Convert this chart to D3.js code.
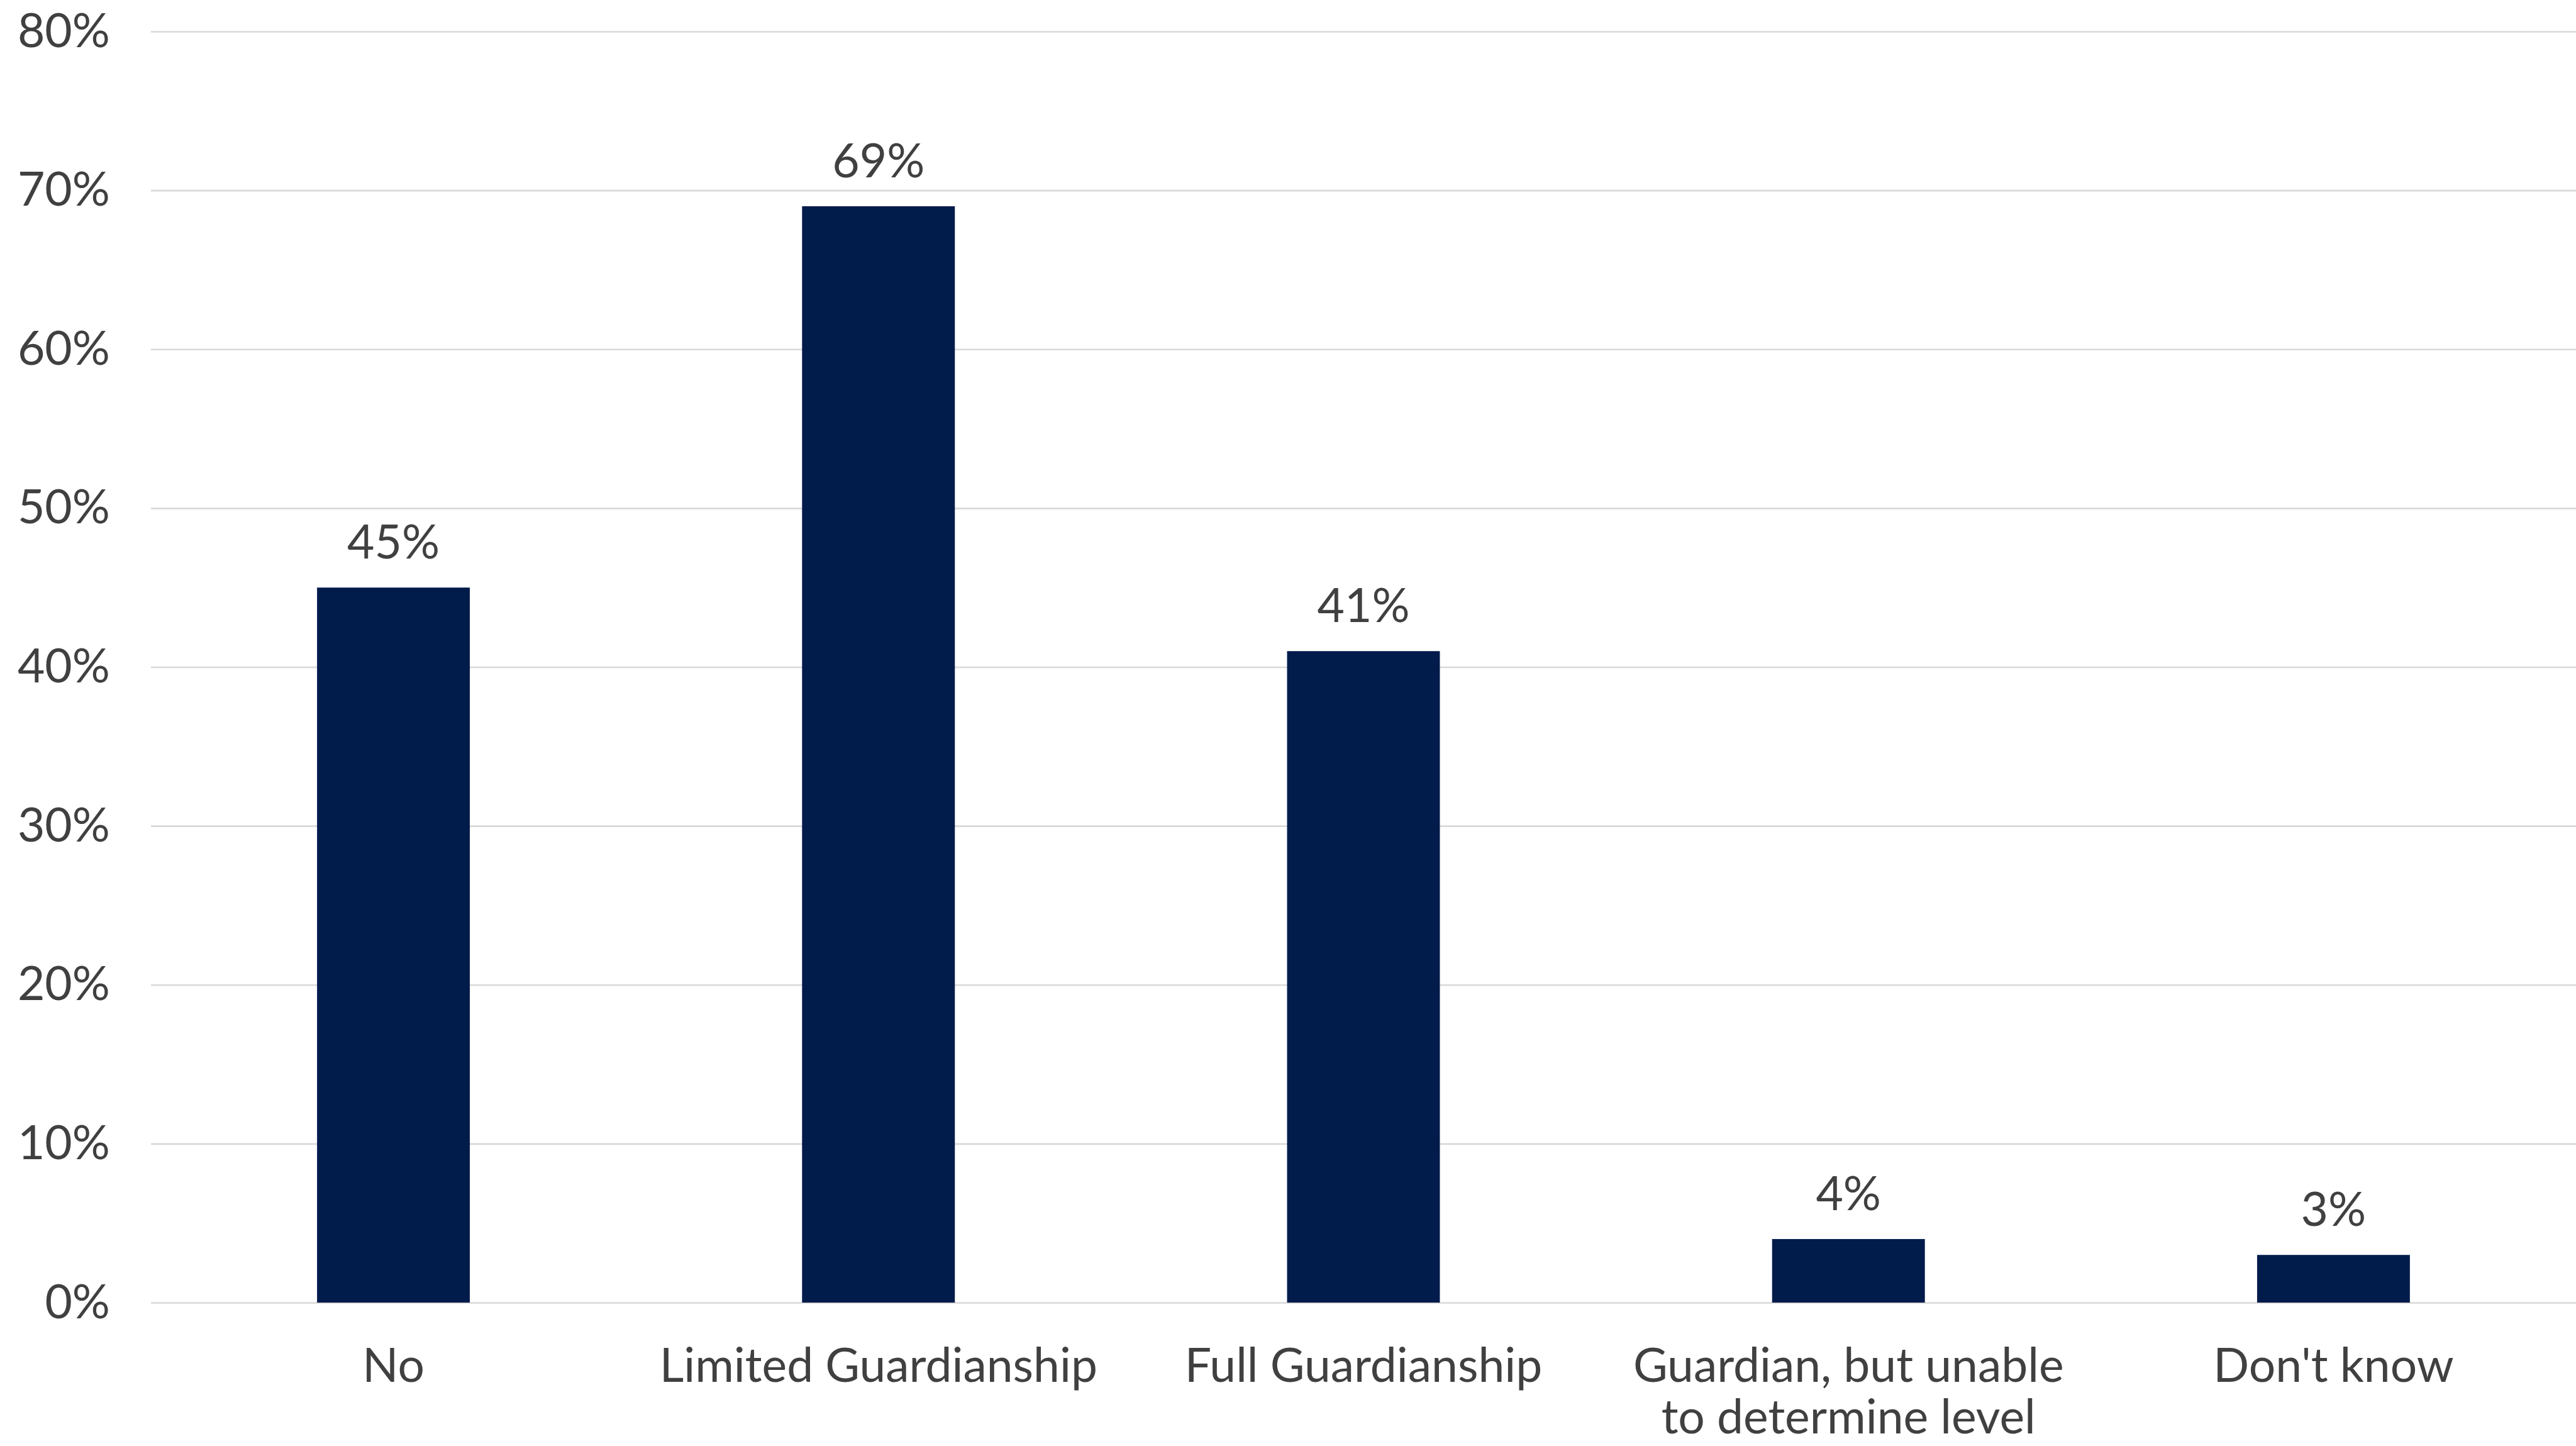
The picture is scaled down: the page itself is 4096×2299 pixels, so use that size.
<!DOCTYPE html>
<html>
<head>
<meta charset="utf-8">
<script src="https://cdn.jsdelivr.net/npm/d3@7"></script>
<style>
  html, body { margin: 0; padding: 0; background: #ffffff; }
  svg { display: block; }
</style>
</head>
<body>
<svg id="chart" width="4096" height="2299"></svg>
<script>
// ---- data ----
const categories = ["No", "Limited Guardianship", "Full Guardianship", "Guardian, but unable to determine level", "Don't know"];
const values = [45, 69, 41, 4, 3];
const yTicks = [0, 10, 20, 30, 40, 50, 60, 70, 80];

// ---- layout ----
const W = 4096, H = 2299;
const margin = { left: 240, right: 0, top: 50, bottom: 228 };
const FONT = "Lato, 'Open Sans', sans-serif";
const FS = 75;
const TEXT = "#404040";

const svg = d3.select("#chart");
svg.append("rect").attr("width", W).attr("height", H).attr("fill", "#ffffff");

const x = d3.scaleBand()
  .domain(categories)
  .range([margin.left, W - margin.right])
  .paddingInner(0.685)
  .paddingOuter(0.3425);

const y = d3.scaleLinear()
  .domain([0, 80])
  .range([H - margin.bottom, margin.top]);

// gridlines + y tick labels
const yAxis = svg.append("g")
  .attr("transform", `translate(${margin.left},0)`)
  .call(d3.axisLeft(y).tickValues(yTicks).tickFormat(d => d + "%")
    .tickSize(-(W - margin.left - margin.right)).tickPadding(65));
yAxis.select(".domain").remove();
yAxis.selectAll(".tick line").attr("stroke", "#d9d9d9").attr("stroke-width", 2.6);
yAxis.selectAll(".tick text")
  .attr("font-family", FONT).attr("font-size", FS).attr("fill", TEXT);

// bars
svg.append("g").selectAll("rect")
  .data(values)
  .join("rect")
  .attr("x", (d, i) => x(categories[i]))
  .attr("width", x.bandwidth())
  .attr("y", d => y(d))
  .attr("height", d => y(0) - y(d))
  .attr("fill", "#011b4b");

// value labels
svg.append("g").selectAll("text")
  .data(values)
  .join("text")
  .attr("x", (d, i) => x(categories[i]) + x.bandwidth() / 2)
  .attr("y", d => y(d) - 46)
  .attr("text-anchor", "middle")
  .attr("font-family", FONT).attr("font-size", FS).attr("fill", TEXT)
  .text(d => d + "%");

// x axis labels
const xAxis = svg.append("g")
  .attr("transform", `translate(0,${y(0)})`)
  .call(d3.axisBottom(x).tickSize(0).tickPadding(0));
xAxis.select(".domain").remove();

const step = x.step();
xAxis.selectAll(".tick text")
  .attr("font-family", FONT).attr("font-size", FS).attr("fill", TEXT)
  .attr("dy", null)
  .each(function(label) {
    const t = d3.select(this);
    const words = label.split(" ");
    t.text(null);
    let line = [];
    let lineNo = 0;
    let tspan = t.append("tspan").attr("x", 0).attr("y", 126);
    for (const w of words) {
      line.push(w);
      tspan.text(line.join(" "));
      if (tspan.node().getComputedTextLength() > step * 0.98 && line.length > 1) {
        line.pop();
        tspan.text(line.join(" "));
        line = [w];
        lineNo++;
        tspan = t.append("tspan").attr("x", 0).attr("y", 126 + lineNo * 82).text(w);
      }
    }
  });
</script>
</body>
</html>
